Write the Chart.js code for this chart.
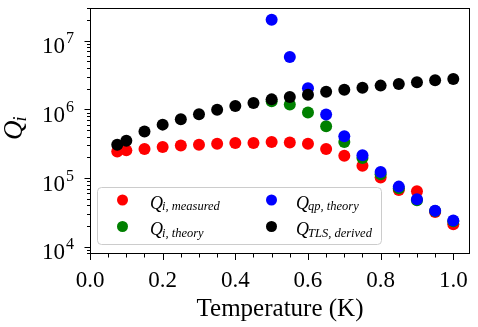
<!DOCTYPE html>
<html>
<head>
<meta charset="utf-8">
<script src="https://cdn.jsdelivr.net/npm/chart.js@4.4.1/dist/chart.umd.min.js"></script>
<style>
    html, body { margin: 0; padding: 0; background: #fff; }
</style>
</head>
<body>
<canvas id="grafica" width="478" height="327"></canvas>
<script>
// temperaturas (K)
const temperaturas = [0.075, 0.1, 0.15, 0.2, 0.25, 0.3, 0.35, 0.4, 0.45, 0.5, 0.55, 0.6, 0.65, 0.7, 0.75, 0.8, 0.85, 0.9, 0.95, 1.0];
const tempTeoria = [0.5, 0.55, 0.6, 0.65, 0.7, 0.75, 0.8, 0.85, 0.9, 0.95, 1.0];

const qiMedido = [2.44e5, 2.53e5, 2.65e5, 2.84e5, 2.99e5, 3.06e5, 3.17e5, 3.24e5, 3.24e5, 3.36e5, 3.3e5, 3.17e5, 2.65e5, 2.12e5, 1.51e5, 1.02e5, 6.7e4, 6.4e4, 3.19e4, 2.13e4];
const qiTeoria = [1.31e6, 1.18e6, 9.0e5, 5.7e5, 3.36e5, 1.96e5, 1.14e5, 7.1e4, 4.73e4, 3.3e4, 2.35e4];
const qqpTeoria = [2.03e7, 5.8e6, 2.04e6, 8.4e5, 4.07e5, 2.14e5, 1.22e5, 7.5e4, 4.9e4, 3.33e4, 2.4e4];
const qtlsDerivado = [3.06e5, 3.5e5, 4.75e5, 6.0e5, 7.2e5, 8.5e5, 9.9e5, 1.12e6, 1.24e6, 1.4e6, 1.51e6, 1.64e6, 1.81e6, 1.94e6, 2.07e6, 2.22e6, 2.34e6, 2.48e6, 2.65e6, 2.77e6];

const ticksX = [0.0, 0.2, 0.4, 0.6, 0.8, 1.0];
const ticksYExp = [4, 5, 6, 7];

const colores = ['#ff0000', '#008000', '#0000ff', '#000000'];
const subindices = ['i, measured', 'i, theory', 'qp, theory', 'TLS, derived'];

const SERIF = '"Liberation Serif", "Times New Roman", serif';

const puntos = (xs, ys) => xs.map((x, i) => ({ x: x, y: ys[i] }));

// ejes, ticks y leyenda al estilo matplotlib
const ejes = {
    id: 'ejes',
    afterDraw(chart) {
        const ctx = chart.ctx;
        const a = chart.chartArea;
        const sx = chart.scales.x;
        const sy = chart.scales.y;
        ctx.save();
        ctx.strokeStyle = '#000';
        ctx.lineWidth = 1;
        ctx.strokeRect(Math.round(a.left) + 0.5, Math.round(a.top) + 0.5,
            Math.round(a.right - a.left) - 1, Math.round(a.bottom - a.top) - 1);

        // ticks eje x
        ctx.fillStyle = '#000';
        ctx.font = '23px ' + SERIF;
        ctx.textAlign = 'center';
        ctx.textBaseline = 'alphabetic';
        ticksX.forEach((t, i) => {
            for (let k = 0; k < 4; k++) {
                const v = t + k * 0.05;
                if (i === ticksX.length - 1 && k > 0) break;
                const px = Math.round(sx.getPixelForValue(v)) + 0.5;
                const len = k === 0 ? 6 : 3.5;
                ctx.beginPath();
                ctx.moveTo(px, a.bottom);
                ctx.lineTo(px, a.bottom + len);
                ctx.stroke();
            }
            ctx.fillText(t.toFixed(1), sx.getPixelForValue(t), 287);
        });
        ctx.font = '25px ' + SERIF;
        ctx.fillText('Temperature (K)', (a.left + a.right) / 2, 316);

        // ticks eje y (log)
        for (let e = 3; e <= 7; e++) {
            for (let m = 1; m <= 9; m++) {
                const v = m * Math.pow(10, e);
                if (v < sy.min || v > sy.max) continue;
                const py = Math.round(sy.getPixelForValue(v)) + 0.5;
                const len = m === 1 ? 5.5 : 3;
                ctx.beginPath();
                ctx.moveTo(a.left, py);
                ctx.lineTo(a.left - len, py);
                ctx.stroke();
            }
        }
        ticksYExp.forEach(e => {
            const py = sy.getPixelForValue(Math.pow(10, e));
            ctx.textAlign = 'right';
            ctx.font = '23px ' + SERIF;
            ctx.fillText('10', 65, py + 12.5);
            ctx.textAlign = 'left';
            ctx.font = '16px ' + SERIF;
            ctx.fillText(String(e), 66, py + 2.5);
        });

        // etiqueta eje y: Q_i
        ctx.save();
        ctx.translate(22, 140);
        ctx.rotate(-Math.PI / 2);
        ctx.textAlign = 'left';
        ctx.font = 'italic 27px ' + SERIF;
        ctx.fillText('Q', 0, 0);
        const wq = ctx.measureText('Q').width;
        ctx.font = 'italic 18px ' + SERIF;
        ctx.fillText('i', wq - 1, 4);
        ctx.restore();

        // leyenda
        ctx.beginPath();
        ctx.roundRect(97.5, 187.5, 284, 57, 4);
        ctx.fillStyle = 'rgba(255,255,255,0.8)';
        ctx.fill();
        ctx.strokeStyle = '#cccccc';
        ctx.stroke();
        const colX = [122.5, 271.5];
        const textX = [150, 296];
        const filaY = [200, 226.5];
        subindices.forEach((s, i) => {
            const c = Math.floor(i / 2), f = i % 2;
            ctx.beginPath();
            ctx.arc(colX[c], filaY[f], 5.5, 0, Math.PI * 2);
            ctx.fillStyle = colores[i];
            ctx.fill();
            ctx.fillStyle = '#000';
            ctx.textAlign = 'left';
            ctx.font = 'italic 18px ' + SERIF;
            ctx.fillText('Q', textX[c], filaY[f] + 8.5);
            const w = ctx.measureText('Q').width;
            ctx.font = 'italic 12.5px ' + SERIF;
            ctx.fillText(s, textX[c] + w - 1, filaY[f] + 10);
        });
        ctx.restore();
    }
};

const ctx = document.getElementById('grafica').getContext('2d');

const myChart = new Chart(ctx, {
    type: 'scatter',
    data: {
        datasets: [{
            label: 'Q_i,measured',
            data: puntos(temperaturas, qiMedido),
            backgroundColor: colores[0],
            order: 4
        }, {
            label: 'Q_i,theory',
            data: puntos(tempTeoria, qiTeoria),
            backgroundColor: colores[1],
            order: 3
        }, {
            label: 'Q_qp,theory',
            data: puntos(tempTeoria, qqpTeoria),
            backgroundColor: colores[2],
            order: 2
        }, {
            label: 'Q_TLS,derived',
            data: puntos(temperaturas, qtlsDerivado),
            backgroundColor: colores[3],
            order: 1
        }]
    },
    options: {
        responsive: false,
        animation: false,
        elements: {
            point: { radius: 6, borderWidth: 0, hoverRadius: 6 }
        },
        layout: {
            autoPadding: false,
            padding: { top: 8, right: 8, left: 0, bottom: 0 }
        },
        plugins: {
            legend: { display: false },
            tooltip: { enabled: false }
        },
        scales: {
            x: {
                type: 'linear',
                min: 0,
                max: 1.046,
                ticks: { display: false },
                grid: { display: false },
                border: { display: false },
                afterFit: s => { s.height = 73; }
            },
            y: {
                type: 'logarithmic',
                min: 7826,
                max: 3.0e7,
                ticks: { display: false },
                grid: { display: false },
                border: { display: false },
                afterFit: s => { s.width = 90; }
            }
        }
    },
    plugins: [ejes]
});
</script>
</body>
</html>
